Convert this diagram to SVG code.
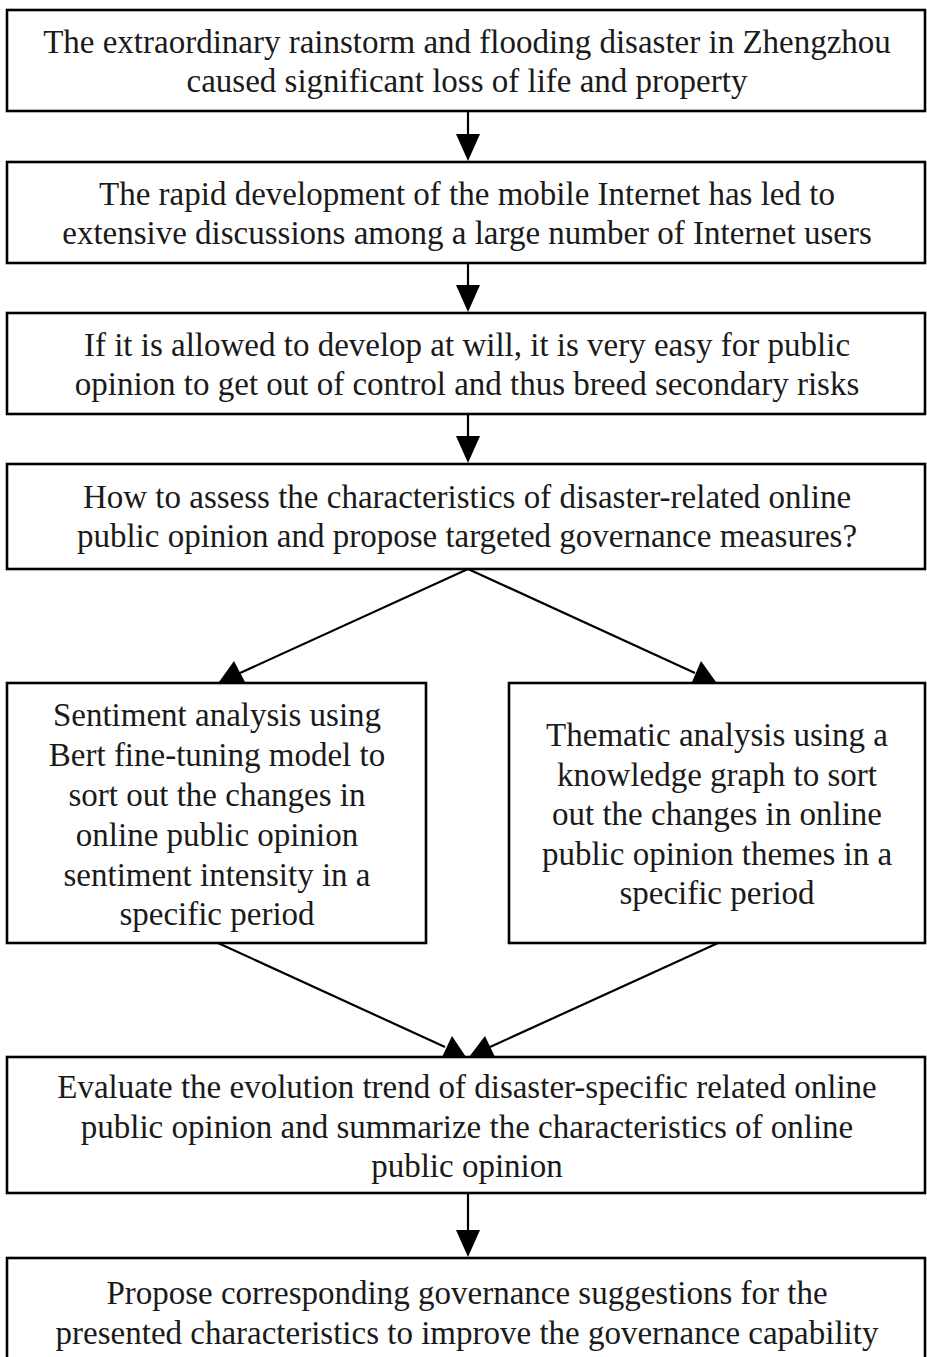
<svg xmlns="http://www.w3.org/2000/svg" width="927" height="1357" viewBox="0 0 927 1357">
<style>
.box{fill:#fff;stroke:#000;stroke-width:2.6}
.t{font-family:"Liberation Serif","Times New Roman",serif;font-size:33px;fill:#1a1a1a;text-anchor:middle}
.ln{stroke:#000;stroke-width:2.2;fill:none}
.ah{fill:#000;stroke:none}
</style>
<rect width="927" height="1357" fill="#fff"/>
<g id="connectors">
<line class="ln" x1="468" y1="111" x2="468" y2="140"/>
<polygon class="ah" points="456,134 480,134 468,161"/>
<line class="ln" x1="468" y1="263" x2="468" y2="292"/>
<polygon class="ah" points="456,285 480,285 468,312"/>
<line class="ln" x1="468" y1="414" x2="468" y2="443"/>
<polygon class="ah" points="456,436 480,436 468,463"/>
<line class="ln" x1="468" y1="569" x2="240" y2="673"/>
<polygon class="ah" points="219,682 245,682 234,661"/>
<line class="ln" x1="468" y1="569" x2="695" y2="673"/>
<polygon class="ah" points="692,682 716,682 701,661"/>
<line class="ln" x1="218" y1="943" x2="445" y2="1047"/>
<polygon class="ah" points="442,1057 466,1057 452,1036"/>
<line class="ln" x1="718" y1="943" x2="490" y2="1047"/>
<polygon class="ah" points="469,1057 495,1057 485,1036"/>
<line class="ln" x1="468" y1="1193" x2="468" y2="1235"/>
<polygon class="ah" points="456,1230 480,1230 468,1257"/>
</g>
<g id="n1">
<rect class="box" x="7" y="10" width="918" height="101"/>
<text class="t" x="467" y="53">The extraordinary rainstorm and flooding disaster in Zhengzhou</text>
<text class="t" x="467" y="92">caused significant loss of life and property</text>
</g>
<g id="n2">
<rect class="box" x="7" y="162" width="918" height="101"/>
<text class="t" x="467" y="205">The rapid development of the mobile Internet has led to</text>
<text class="t" x="467" y="244">extensive discussions among a large number of Internet users</text>
</g>
<g id="n3">
<rect class="box" x="7" y="313" width="918" height="101"/>
<text class="t" x="467" y="356">If it is allowed to develop at will, it is very easy for public</text>
<text class="t" x="467" y="395">opinion to get out of control and thus breed secondary risks</text>
</g>
<g id="n4">
<rect class="box" x="7" y="464" width="918" height="105"/>
<text class="t" x="467" y="508">How to assess the characteristics of disaster-related online</text>
<text class="t" x="467" y="547">public opinion and propose targeted governance measures?</text>
</g>
<g id="n5">
<rect class="box" x="7" y="683" width="419" height="260"/>
<text class="t" x="217" y="726">Sentiment analysis using</text>
<text class="t" x="217" y="766">Bert fine-tuning model to</text>
<text class="t" x="217" y="806">sort out the changes in</text>
<text class="t" x="217" y="846">online public opinion</text>
<text class="t" x="217" y="886">sentiment intensity in a</text>
<text class="t" x="217" y="925">specific period</text>
</g>
<g id="n6">
<rect class="box" x="509" y="683" width="416" height="260"/>
<text class="t" x="717" y="746">Thematic analysis using a</text>
<text class="t" x="717" y="786">knowledge graph to sort</text>
<text class="t" x="717" y="825">out the changes in online</text>
<text class="t" x="717" y="865">public opinion themes in a</text>
<text class="t" x="717" y="904">specific period</text>
</g>
<g id="n7">
<rect class="box" x="7" y="1057" width="918" height="136"/>
<text class="t" x="467" y="1098">Evaluate the evolution trend of disaster-specific related online</text>
<text class="t" x="467" y="1138">public opinion and summarize the characteristics of online</text>
<text class="t" x="467" y="1177">public opinion</text>
</g>
<g id="n8">
<rect class="box" x="7" y="1258" width="918" height="110"/>
<text class="t" x="467" y="1304">Propose corresponding governance suggestions for the</text>
<text class="t" x="467" y="1344">presented characteristics to improve the governance capability</text>
</g>
</svg>
